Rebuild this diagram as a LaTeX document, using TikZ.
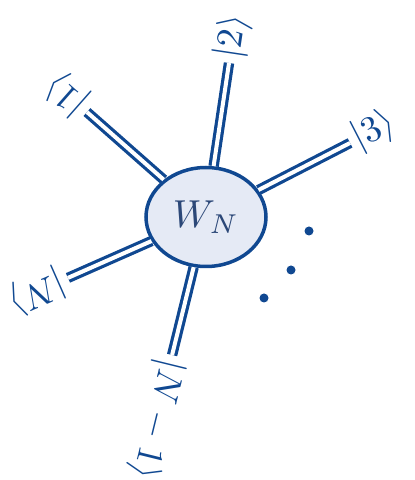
\documentclass[tikz,border=0pt]{standalone}
\usepackage{amsmath}
\usetikzlibrary{shapes.geometric}

\newcommand{\scl}[2]{\scalebox{#1}{$#2$}}

\begin{document}
\begin{tikzpicture}[x=1pt, y=1pt]

\definecolor{leg_color}{RGB}{16,72,145}
\definecolor{tensor_fill}{RGB}{229,234,245}
\definecolor{tensor_text}{RGB}{44,72,120}

\tikzset{
  tensor/.style={ellipse, draw=leg_color, line width=3.5pt, fill=tensor_fill, minimum width=120pt, minimum height=99pt, inner sep=0pt, text=tensor_text},
  leg/.style={draw=leg_color, line width=3.2pt, double=white, double distance=4pt},
  ket/.style={text=leg_color, anchor=west, inner sep=5pt},
  dot/.style={circle, fill=leg_color, inner sep=0pt, minimum size=9pt},
}

\useasboundingbox (0,0) rectangle (415,480);

\node[tensor] (W) at (206,263) {\scl{3.9}{W_N}};

% open ends of the legs
\coordinate (e1) at ([shift={(138.6:158.7)}]W.center);
\coordinate (e2) at ([shift={(81.5:155.7)}]W.center);
\coordinate (e3) at ([shift={(27.2:162)}]W.center);
\coordinate (eN) at ([shift={(203.8:150.9)}]W.center);
\coordinate (eM) at ([shift={(256.2:142.1)}]W.center);

\draw[leg] (W) -- (e1);
\draw[leg] (W) -- (e2);
\draw[leg] (W) -- (e3);
\draw[leg] (W) -- (eN);
\draw[leg] (W) -- (eM);

\node[ket, rotate=138.6] (k1) at (e1) {\scl{3.7}{|1\rangle}};
\node[ket, rotate=81.5] (k2) at (e2) {\scl{3.7}{|2\rangle}};
\node[ket, rotate=27.2] (k3) at (e3) {\scl{3.7}{|3\rangle}};
\node[ket, rotate=203.8] (kN) at (eN) {\scl{3.7}{|N\rangle}};
\node[ket, rotate=256.2] (kM) at (eM) {\scl{3.7}{|N-1\rangle}};

\node[dot] (d1) at (309,249) {};
\node[dot] (d2) at (291,210) {};
\node[dot] (d3) at (264,182) {};

\end{tikzpicture}
\end{document}
